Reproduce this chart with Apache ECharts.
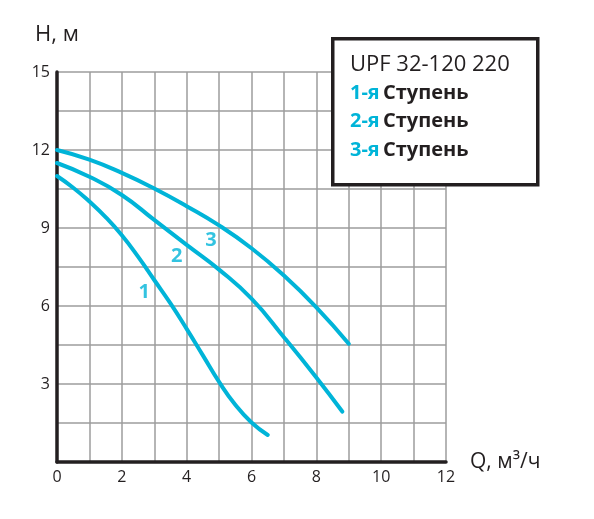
<!DOCTYPE html>
<html><head><meta charset="utf-8">
<script src="https://cdn.jsdelivr.net/npm/echarts@6/dist/echarts.min.js"></script>
<style>html,body{margin:0;padding:0;background:#fff}#c{width:594px;height:519px}</style>
</head><body><div id="c"></div>
<script>
var q1 = [0, 0.5, 1, 1.5, 2, 2.5, 3, 3.5, 4, 4.5, 5, 5.5, 6, 6.5];
var h1 = [11, 10.55, 10.02, 9.42, 8.72, 7.9, 7.0, 6.1, 5.12, 4.1, 3.08, 2.2, 1.52, 1.04];
var q2 = [0, 1, 2, 3, 4, 5, 6, 7, 8, 8.8];
var h2 = [11.5, 10.97, 10.27, 9.31, 8.35, 7.4, 6.28, 4.8, 3.25, 1.94];
var q3 = [0, 1, 2, 3, 4, 5, 6, 7, 8, 9];
var h3 = [12, 11.63, 11.12, 10.52, 9.84, 9.1, 8.22, 7.17, 5.95, 4.55];
var curveNames = ['1', '2', '3'];
var labelQ = [2.69, 3.69, 4.75];
var labelH = [6.51, 7.92, 8.54];
var xTicks = [0, 2, 4, 6, 8, 10, 12];
var yTicks = [3, 6, 9, 12, 15];
var titleText = 'UPF 32-120 220';
var stageNum = ['1-я', '2-я', '3-я'];
var stageWord = 'Ступень';

var CY = '#00b4d8', DK = '#231f20', GR = '#9d9d9d';
var FF = '"Open Sans", sans-serif';
function zip(a, b) { return a.map(function (v, i) { return [v, b[i]]; }); }
function lineS(q, h) {
  return { type: 'line', data: zip(q, h), smooth: 0.5, showSymbol: false, symbol: 'none',
    lineStyle: { color: CY, width: 4, cap: 'round' }, z: 5, silent: true };
}
var chart = echarts.init(document.getElementById('c'), null, { renderer: 'canvas' });
var legendChildren = [{
  type: 'rect', left: 331, top: 37, z: 100,
  shape: { width: 205, height: 146 },
  style: { fill: '#fff', stroke: DK, lineWidth: 3.5 }
}, {
  type: 'text', left: 350, top: 54, z: 101,
  style: { text: titleText, fill: DK, font: '400 22px ' + FF }
}];
stageNum.forEach(function (s, i) {
  legendChildren.push({
    type: 'text', left: 350, top: 83 + i * 28.5, z: 101,
    style: { text: '{a|' + s + '} {b|' + stageWord + '}',
      rich: { a: { fill: CY, font: '700 20px ' + FF }, b: { fill: DK, font: '700 20px ' + FF } } }
  });
});
chart.setOption({
  animation: false,
  backgroundColor: '#fff',
  grid: { left: 57, right: 148, top: 72, bottom: 57, containLabel: false },
  xAxis: {
    type: 'value', min: 0, max: 12, interval: 1,
    name: 'Q, м³/ч', nameLocation: 'end', nameGap: 24,
    nameTextStyle: { color: DK, fontSize: 21, fontFamily: FF, verticalAlign: 'middle', padding: [6, 0, 0, 0] },
    axisLine: { show: true, onZero: false, lineStyle: { color: DK, width: 3.5 } },
    axisTick: { show: false },
    axisLabel: { color: DK, fontSize: 16, fontFamily: FF, margin: 7,
      formatter: function (v) { return xTicks.indexOf(v) >= 0 ? String(v) : ''; } },
    splitLine: { show: true, lineStyle: { color: GR, width: 1.5 } }
  },
  yAxis: {
    type: 'value', min: 0, max: 15, interval: 1.5,
    name: 'H, м', nameLocation: 'end', nameGap: 26,
    nameTextStyle: { color: DK, fontSize: 22, fontFamily: FF, align: 'center' },
    axisLine: { show: true, onZero: false, lineStyle: { color: DK, width: 3.5 } },
    axisTick: { show: false },
    axisLabel: { color: DK, fontSize: 16, fontFamily: FF, margin: 7,
      formatter: function (v) {
        var r = Math.round(v * 10) / 10;
        return yTicks.indexOf(r) >= 0 ? String(r) : '';
      } },
    splitLine: { show: true, lineStyle: { color: GR, width: 1.5 } }
  },
  series: [lineS(q1, h1), lineS(q2, h2), lineS(q3, h3), {
    type: 'scatter', symbolSize: 0, z: 6, silent: true,
    data: labelQ.map(function (q, i) { return { value: [q, labelH[i]], name: curveNames[i] }; }),
    label: { show: true, position: 'inside', formatter: '{b}', color: CY,
      fontSize: 20, fontWeight: 700, fontFamily: FF }
  }],
  graphic: legendChildren
});
</script></body></html>
